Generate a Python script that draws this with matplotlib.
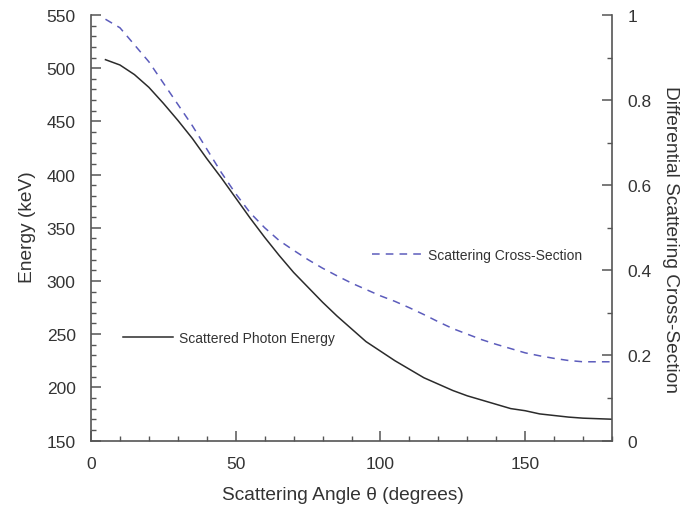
import matplotlib
matplotlib.use('Agg')
import matplotlib.pyplot as plt
from matplotlib.ticker import MultipleLocator, FixedLocator, FixedFormatter

plt.rcParams['font.family'] = ['Liberation Sans', 'DejaVu Sans']

# ---- data ----
angles = [5, 10, 15, 20, 25, 30, 35, 40, 45, 50, 55, 60, 65, 70, 75, 80, 85, 90,
          95, 100, 105, 110, 115, 120, 125, 130, 135, 140, 145, 150, 155, 160,
          165, 170, 175, 180]
energy = [508, 503, 494, 482, 467, 451, 434, 415, 397, 378, 359, 341, 324, 308,
          294, 280, 267, 255, 243, 234, 225, 217, 209, 203, 197, 192, 188, 184,
          180, 178, 175, 173.5, 172, 171, 170.5, 170]
cross_section = [0.99, 0.97, 0.93, 0.89, 0.84, 0.79, 0.74, 0.685, 0.63, 0.58,
                 0.535, 0.50, 0.47, 0.447, 0.425, 0.405, 0.387, 0.37, 0.355,
                 0.34, 0.327, 0.312, 0.296, 0.279, 0.263, 0.25, 0.237, 0.226,
                 0.216, 0.206, 0.199, 0.193, 0.188, 0.185, 0.185, 0.185]

x_ticks = [0, 50, 100, 150]
x_tick_labels = ['0', '50', '100', '150']
energy_ticks = [150, 200, 250, 300, 350, 400, 450, 500, 550]
energy_tick_labels = ['150', '200', '250', '300', '350', '400', '450', '500', '550']
cs_ticks = [0, 0.2, 0.4, 0.6, 0.8, 1.0]
cs_tick_labels = ['0', '0.2', '0.4', '0.6', '0.8', '1']

label_energy = 'Scattered Photon Energy'
label_cs = 'Scattering Cross-Section'

# ---- styling ----
spine_col = '#555555'
text_col = '#333333'
tick_fs = 12.5
label_fs = 13.8

fig = plt.figure(figsize=(6.81, 5.10), dpi=100)
ax = fig.add_axes([91 / 681, 1 - 441.5 / 510, 521 / 681, 425.5 / 510])
ax2 = ax.twinx()

l1, = ax.plot(angles, energy, color='#2b2b2b', lw=1.1)
l2, = ax2.plot(angles, cross_section, color='#5c5cbc', lw=1.1,
               linestyle=(0, (5, 4)))

ax.set_xlim(0, 180)
ax.set_ylim(150, 550)
ax2.set_ylim(0, 1)

ax.xaxis.set_major_locator(FixedLocator(x_ticks))
ax.xaxis.set_major_formatter(FixedFormatter(x_tick_labels))
ax.xaxis.set_minor_locator(MultipleLocator(10))
ax.yaxis.set_major_locator(FixedLocator(energy_ticks))
ax.yaxis.set_major_formatter(FixedFormatter(energy_tick_labels))
ax.yaxis.set_minor_locator(MultipleLocator(10))
ax2.yaxis.set_major_locator(FixedLocator(cs_ticks))
ax2.yaxis.set_major_formatter(FixedFormatter(cs_tick_labels))
ax2.yaxis.set_minor_locator(MultipleLocator(0.1))

for a in (ax, ax2):
    a.spines['top'].set_visible(False)
    for s in a.spines.values():
        s.set_color(spine_col)
        s.set_linewidth(1.2)
    a.tick_params(which='major', direction='in', length=7, width=1.1,
                  color=spine_col, labelsize=tick_fs, labelcolor=text_col, pad=11)
    a.tick_params(which='minor', direction='in', length=3.6, width=1.0,
                  color=spine_col)
ax.tick_params(axis='x', which='both', top=False)
ax2.tick_params(axis='x', which='both', top=False, bottom=False)
ax.spines['right'].set_visible(False)
ax2.spines['left'].set_visible(False)
ax2.spines['bottom'].set_visible(False)

ax.set_xlabel('Scattering Angle θ (degrees)', fontsize=label_fs, color=text_col,
              va='center')
ax.xaxis.set_label_coords((343 - 91) / 521, (441.5 - 495) / 425.5)
ax.set_ylabel('Energy (keV)', fontsize=label_fs, color=text_col, va='center')
ax.yaxis.set_label_coords((27 - 91) / 521, (441.5 - 227) / 425.5)
ax2.set_ylabel('Differential Scattering Cross-Section', fontsize=label_fs,
               color=text_col, rotation=270, va='center')
ax2.yaxis.set_label_coords((670 - 91) / 521, (441.5 - 240) / 425.5)

leg1 = ax2.legend([l2], [label_cs], loc='center left', frameon=False,
                  bbox_to_anchor=(372 / 681, 1 - 256 / 510),
                  bbox_transform=fig.transFigure, borderpad=0, borderaxespad=0,
                  handlelength=3.6, handletextpad=0.45, fontsize=10,
                  labelcolor=text_col)
ax2.add_artist(leg1)
leg2 = ax2.legend([l1], [label_energy], loc='center left', frameon=False,
                  bbox_to_anchor=(123 / 681, 1 - 339 / 510),
                  bbox_transform=fig.transFigure, borderpad=0, borderaxespad=0,
                  handlelength=3.6, handletextpad=0.45, fontsize=10,
                  labelcolor=text_col)

fig.savefig('out.png', dpi=100)
